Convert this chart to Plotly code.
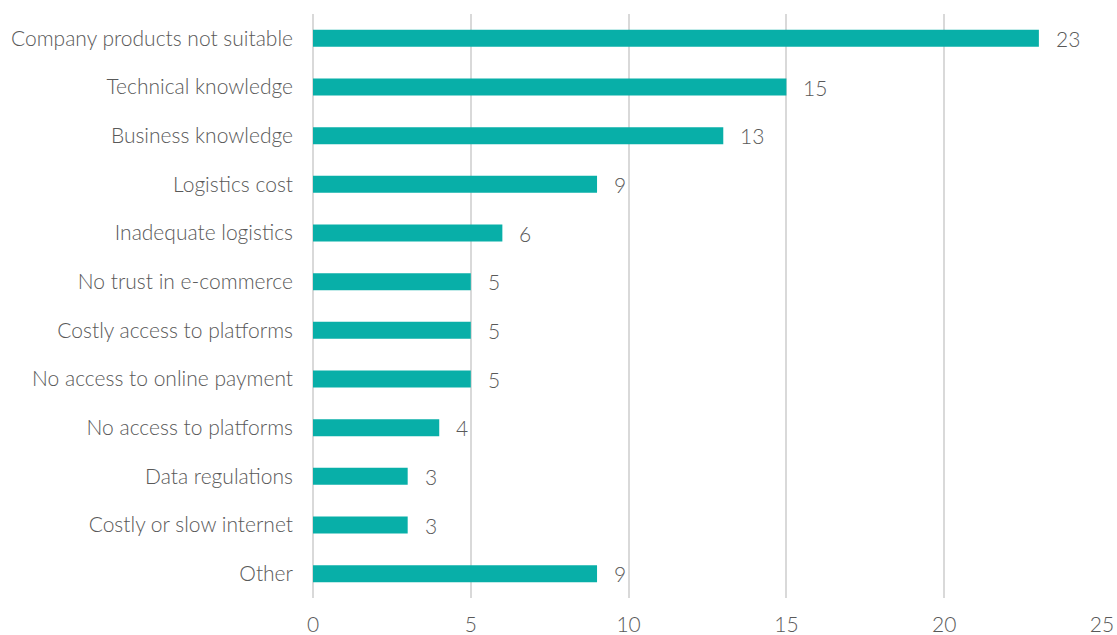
import plotly.graph_objects as go

categories = [
    "Company products not suitable",
    "Technical knowledge",
    "Business knowledge",
    "Logistics cost",
    "Inadequate logistics",
    "No trust in e-commerce",
    "Costly access to platforms",
    "No access to online payment",
    "No access to platforms",
    "Data regulations",
    "Costly or slow internet",
    "Other",
]
values = [23, 15, 13, 9, 6, 5, 5, 5, 4, 3, 3, 9]
x_ticks = [0, 5, 10, 15, 20, 25]

BAR = "#08AFA8"
TXT = "#595959"
GRID = "#D9D9D9"
FONT = dict(family="Lato Light, Lato", size=21, color=TXT, weight=300)

fig = go.Figure(
    go.Bar(
        x=values,
        y=categories,
        orientation="h",
        marker=dict(color=BAR, line=dict(width=0)),
        width=0.35,
        hoverinfo="x+y",
    )
)

for c, v in zip(categories, values):
    fig.add_annotation(
        x=v, y=c, text=str(v), showarrow=False,
        xanchor="left", xshift=15, font=FONT,
    )

fig.update_layout(
    width=1117, height=635,
    margin=dict(l=313, r=15, t=14, b=37),
    paper_bgcolor="white", plot_bgcolor="white",
    font=FONT,
    showlegend=False,
    xaxis=dict(
        range=[0, 25], tickvals=x_ticks, showgrid=True, gridcolor=GRID, gridwidth=1.5,
        zeroline=True, zerolinecolor=GRID, zerolinewidth=1.5, showline=False,
        ticks="", ticklabelstandoff=12, tickfont=FONT, fixedrange=True,
        automargin=False,
    ),
    yaxis=dict(
        categoryorder="array", categoryarray=categories, autorange="reversed",
        showgrid=False, zeroline=False, showline=False, ticks="",
        ticklabelstandoff=19, tickfont=FONT, fixedrange=True, automargin=False,
    ),
)

fig.write_html("out.html")
